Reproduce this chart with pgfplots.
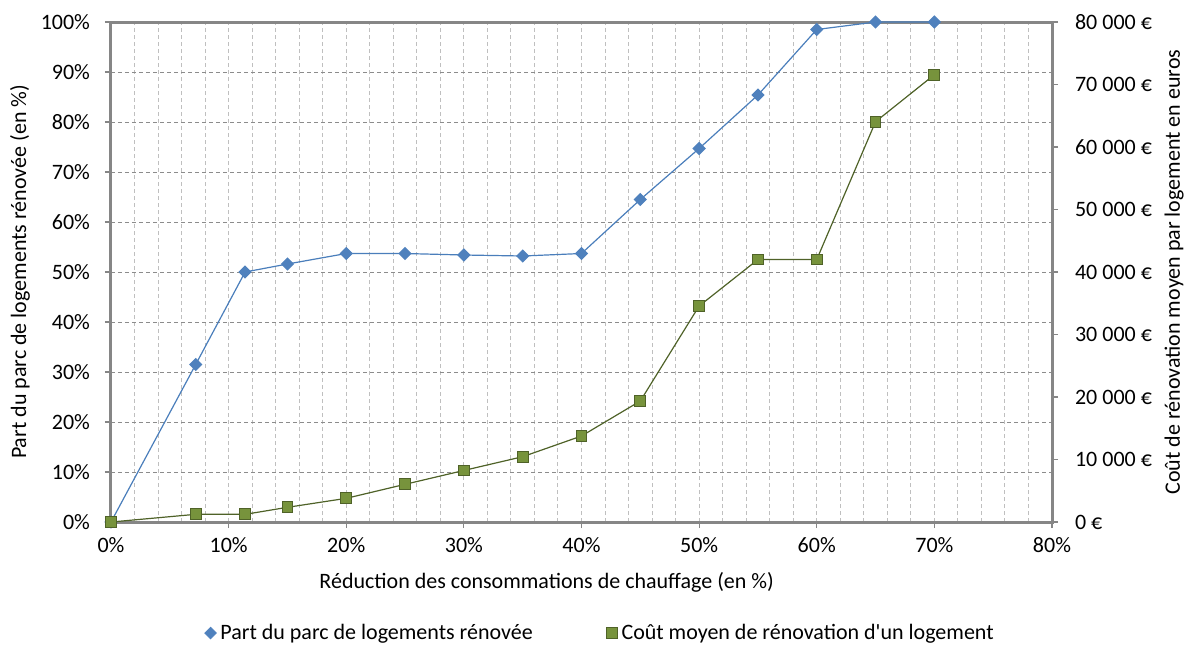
\documentclass[border=0pt]{standalone}
\usepackage{pgfplots}
\pgfplotsset{compat=1.18}
\usepackage{fontspec}
\setmainfont{Carlito}[Ligatures=TeXOff]
\definecolor{axisgray}{HTML}{868686}
\definecolor{gridmaj}{HTML}{8C8C8C}
\definecolor{gridmin}{HTML}{BFBFBF}
\definecolor{blueline}{HTML}{4A7EBB}
\definecolor{bluemark}{HTML}{4F81BD}
\definecolor{greenfill}{HTML}{77933C}
\definecolor{greenline}{HTML}{4F6228}
\begin{document}
\begin{tikzpicture}[font=\fontsize{11}{13.2}\selectfont]
\path[use as bounding box] (-55.5pt,-61.5pt) rectangle (537.5pt,261pt);
\begin{axis}[
  at={(0,0)}, anchor=south west,
  scale only axis, width=470.5pt, height=250pt,
  xmin=0, xmax=80, ymin=0, ymax=100,
  xtick={0,10,...,80},
  xticklabels={0\%,10\%,20\%,30\%,40\%,50\%,60\%,70\%,80\%},
  minor x tick num=4,
  ytick={0,10,...,100},
  yticklabels={0\%,10\%,20\%,30\%,40\%,50\%,60\%,70\%,80\%,90\%,100\%},
  xtick pos=bottom, ytick pos=left,
  tick align=outside,
  major tick length=3pt, minor tick length=0pt,
  minor tick style={draw=none},
  tick style={draw=axisgray, line width=0.6pt},
  yticklabel style={xshift=-4pt},
  xticklabel style={yshift=-1pt},
  axis line style={draw=axisgray, line width=1.5pt},
  xmajorgrids, xminorgrids, ymajorgrids,
  major x grid style={draw=gridmin, dash pattern=on 2pt off 1.5pt, line width=0.5pt},
  minor x grid style={draw=gridmin, dash pattern=on 2pt off 1.5pt, line width=0.5pt},
  major y grid style={draw=gridmaj, dash pattern=on 2pt off 1.5pt, line width=0.5pt},
  xlabel={Réduction des consommations de chauffage (en \%)},
  xlabel style={at={(axis description cs:0.463,-0.12)}, anchor=center},
  ylabel={Part du parc de logements rénovée (en \%)},
  ylabel style={at={(axis description cs:-0.0967,0.5)}, anchor=center},
  clip=false,
]
\addplot[color=blueline, line width=0.6pt, mark=square*, mark size=2.05pt,
  mark options={rotate=45, fill=bluemark, draw=bluemark}]
  coordinates {
  (0,0) (7.2,31.5) (11.4,50.0) (15,51.6) (20,53.7) (25,53.7) (30,53.4)
  (35,53.2) (40,53.7) (45,64.5) (50,74.7) (55,85.4) (60,98.5) (65,100) (70,100)
  };
\end{axis}
\begin{axis}[
  at={(0,0)}, anchor=south west,
  scale only axis, width=470.5pt, height=250pt,
  xmin=0, xmax=80, ymin=0, ymax=80000,
  axis x line=none, axis y line*=right,
  scaled y ticks=false,
  ytick={0,10000,...,80000},
  yticklabels={0~€,10~000~€,20~000~€,30~000~€,40~000~€,50~000~€,60~000~€,70~000~€,80~000~€},
  tick align=outside,
  major tick length=3pt,
  minor tick style={draw=none},
  tick style={draw=axisgray, line width=0.6pt},
  yticklabel style={xshift=5pt},
  axis line style={draw=axisgray, line width=1.5pt},
  ylabel={Coût de rénovation moyen par logement en euros},
  ylabel style={at={(axis description cs:1.1297,0.5)}, anchor=center, rotate=0},
  legend columns=2,
  legend style={at={(axis description cs:0.521,-0.222)}, anchor=center,
    draw=none, fill=none, font=\fontsize{11}{13.2}\selectfont,
    /tikz/every even column/.append style={column sep=35pt}},
  legend cell align=left,
  clip=false,
]
\addlegendimage{only marks, mark=square*, mark size=2.05pt,
  mark options={rotate=45, fill=bluemark, draw=bluemark}}
\addlegendentry{Part du parc de logements rénovée}
\addlegendimage{only marks, mark=square*, mark size=2.7pt,
  mark options={fill=greenfill, draw=greenline, line width=0.5pt}}
\addlegendentry{Coût moyen de rénovation d'un logement}
\addplot[forget plot, color=greenline, line width=0.6pt, mark=square*, mark size=2.7pt,
  mark options={fill=greenfill, draw=greenline, line width=0.5pt}]
  coordinates {
  (0,0) (7.2,1230) (11.4,1230) (15,2350) (20,3790) (25,6030) (30,8250)
  (35,10450) (40,13760) (45,19360) (50,34560) (55,42000) (60,42000)
  (65,64050) (70,71570)
  };
\end{axis}
\end{tikzpicture}
\end{document}
